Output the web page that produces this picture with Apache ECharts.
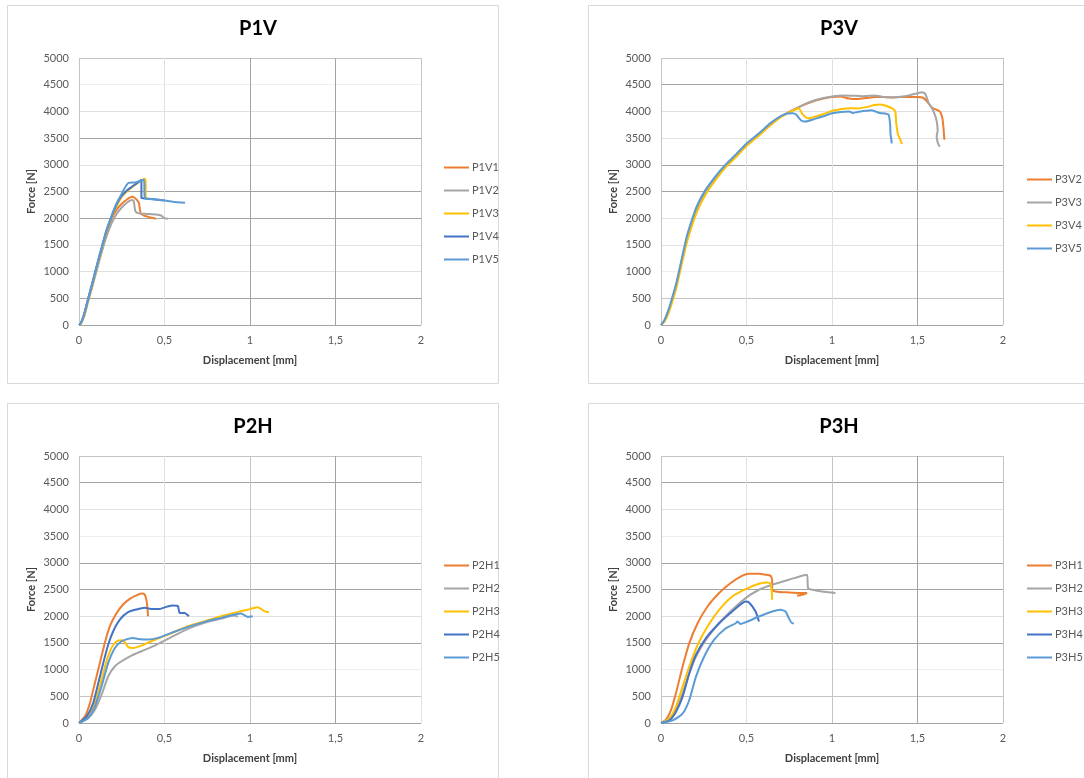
<!DOCTYPE html>
<html>
<head>
<meta charset="utf-8">
<script src="https://cdn.jsdelivr.net/npm/echarts@6/dist/echarts.min.js"></script>
<style>
  html, body { margin: 0; padding: 0; background: #ffffff; }
  #chart { width: 1084px; height: 778px; }
</style>
</head>
<body>
<div id="chart"></div>
<script>
// Force–displacement curves, [displacement mm, force N]
const P1V1 = [[0,0],[0.01,30],[0.03,190],[0.05,440],[0.08,790],[0.1,1040],[0.13,1390],[0.16,1720],[0.19,1980],[0.22,2160],[0.25,2270],[0.28,2350],[0.31,2400],[0.33,2370],[0.35,2290],[0.36,2100],[0.38,2050],[0.40,2030],[0.45,1990]];
const P1V2 = [[0,0],[0.01,20],[0.03,160],[0.05,400],[0.08,740],[0.1,980],[0.13,1330],[0.16,1650],[0.19,1900],[0.22,2080],[0.25,2200],[0.28,2290],[0.31,2340],[0.32,2320],[0.33,2130],[0.35,2090],[0.40,2080],[0.45,2070],[0.48,2050],[0.5,2000],[0.52,1990]];
const P1V3 = [[0,0],[0.01,20],[0.03,170],[0.05,420],[0.08,780],[0.1,1030],[0.13,1390],[0.16,1740],[0.19,2010],[0.22,2230],[0.25,2400],[0.28,2500],[0.31,2580],[0.34,2650],[0.37,2720],[0.385,2740],[0.39,2700],[0.39,2380],[0.42,2360]];
const P1V4 = [[0,0],[0.01,30],[0.03,200],[0.05,450],[0.08,810],[0.1,1060],[0.13,1420],[0.16,1760],[0.19,2030],[0.22,2260],[0.25,2420],[0.28,2520],[0.31,2590],[0.34,2660],[0.36,2710],[0.365,2720],[0.365,2380],[0.39,2370],[0.45,2350],[0.5,2330]];
const P1V5 = [[0,0],[0.01,30],[0.03,200],[0.05,450],[0.08,810],[0.1,1060],[0.13,1420],[0.16,1770],[0.19,2040],[0.22,2280],[0.25,2460],[0.27,2580],[0.29,2660],[0.33,2670],[0.36,2700],[0.38,2720],[0.385,2380],[0.45,2350],[0.55,2310],[0.62,2290]];

const P3V2 = [[0,0],[0.02,80],[0.04,230],[0.06,420],[0.09,760],[0.12,1180],[0.15,1600],[0.18,1900],[0.21,2170],[0.26,2480],[0.32,2750],[0.38,2980],[0.44,3170],[0.5,3370],[0.57,3560],[0.64,3750],[0.7,3900],[0.75,3990],[0.8,4070],[0.85,4140],[0.9,4200],[0.95,4240],[1.0,4270],[1.05,4280],[1.1,4240],[1.15,4230],[1.2,4250],[1.25,4270],[1.3,4270],[1.35,4260],[1.4,4270],[1.45,4270],[1.5,4270],[1.53,4260],[1.555,4190],[1.585,4070],[1.63,4000],[1.645,3880],[1.652,3690],[1.657,3470]];
const P3V3 = [[0,0],[0.02,80],[0.04,230],[0.06,420],[0.09,760],[0.12,1180],[0.15,1600],[0.18,1900],[0.21,2170],[0.26,2480],[0.32,2750],[0.38,2980],[0.44,3170],[0.5,3370],[0.57,3560],[0.64,3750],[0.7,3900],[0.75,3990],[0.8,4070],[0.85,4150],[0.9,4210],[0.95,4250],[1.0,4280],[1.06,4300],[1.12,4295],[1.18,4285],[1.25,4300],[1.3,4270],[1.35,4265],[1.4,4275],[1.45,4300],[1.5,4340],[1.525,4360],[1.545,4330],[1.565,4160],[1.585,4060],[1.6,3950],[1.612,3820],[1.618,3640],[1.612,3530],[1.62,3400],[1.63,3340]];
const P3V4 = [[0,0],[0.02,60],[0.04,190],[0.06,370],[0.09,700],[0.12,1120],[0.15,1530],[0.18,1850],[0.21,2120],[0.26,2440],[0.32,2720],[0.38,2960],[0.44,3150],[0.5,3350],[0.57,3540],[0.64,3740],[0.7,3890],[0.75,3980],[0.79,4040],[0.805,4060],[0.83,3940],[0.86,3870],[0.9,3900],[0.95,3950],[1.0,4010],[1.05,4040],[1.1,4060],[1.15,4055],[1.2,4080],[1.25,4120],[1.28,4130],[1.31,4110],[1.35,4060],[1.37,4000],[1.375,3800],[1.385,3580],[1.41,3390]];
const P3V5 = [[0,0],[0.02,90],[0.04,250],[0.06,450],[0.09,790],[0.12,1220],[0.15,1650],[0.18,1960],[0.21,2230],[0.26,2530],[0.32,2790],[0.38,3010],[0.44,3200],[0.5,3400],[0.57,3580],[0.64,3780],[0.7,3910],[0.74,3960],[0.77,3965],[0.79,3940],[0.82,3830],[0.845,3810],[0.9,3860],[0.95,3910],[1.0,3965],[1.05,3990],[1.1,4000],[1.12,3970],[1.15,3990],[1.2,4010],[1.23,4020],[1.28,3970],[1.33,3940],[1.34,3750],[1.342,3590],[1.35,3400]];

const P2H1 = [[0,0],[0.035,125],[0.064,375],[0.093,750],[0.122,1125],[0.151,1500],[0.18,1810],[0.22,2060],[0.258,2220],[0.297,2325],[0.345,2405],[0.369,2425],[0.384,2405],[0.394,2310],[0.40,2160],[0.404,2000]];
const P2H2 = [[0,0],[0.054,94],[0.093,250],[0.132,531],[0.171,875],[0.21,1062],[0.249,1156],[0.307,1262],[0.365,1344],[0.443,1450],[0.52,1575],[0.637,1762],[0.734,1875],[0.831,1956],[0.909,2012],[0.928,1987]];
const P2H3 = [[0,0],[0.054,125],[0.093,375],[0.132,812],[0.161,1156],[0.19,1406],[0.22,1531],[0.249,1550],[0.268,1512],[0.287,1425],[0.316,1406],[0.365,1450],[0.423,1531],[0.52,1656],[0.637,1812],[0.734,1906],[0.831,2000],[0.928,2081],[1.006,2137],[1.045,2169],[1.064,2137],[1.083,2094],[1.11,2075]];
const P2H4 = [[0,0],[0.045,125],[0.083,375],[0.113,750],[0.142,1125],[0.171,1469],[0.2,1719],[0.239,1937],[0.287,2075],[0.336,2125],[0.384,2156],[0.423,2137],[0.472,2137],[0.51,2175],[0.55,2200],[0.579,2187],[0.588,2062],[0.617,2062],[0.643,2000]];
const P2H5 = [[0,0],[0.054,94],[0.093,312],[0.132,687],[0.171,1125],[0.21,1406],[0.249,1531],[0.287,1575],[0.316,1594],[0.345,1575],[0.404,1562],[0.462,1594],[0.54,1687],[0.637,1800],[0.734,1894],[0.831,1969],[0.909,2031],[0.948,2050],[0.967,2019],[0.986,1987],[1.016,2000]];

const P3H1 = [[0,0],[0.029,63],[0.058,238],[0.087,552],[0.126,1053],[0.165,1492],[0.214,1868],[0.272,2182],[0.34,2433],[0.408,2621],[0.476,2759],[0.515,2796],[0.573,2796],[0.61,2778],[0.64,2759],[0.65,2683],[0.65,2495],[0.67,2464],[0.748,2445],[0.825,2433],[0.854,2433],[0.825,2401],[0.796,2383]];
const P3H2 = [[0,0],[0.049,82],[0.087,238],[0.126,552],[0.165,928],[0.204,1241],[0.262,1555],[0.34,1868],[0.417,2119],[0.495,2339],[0.573,2495],[0.65,2589],[0.748,2683],[0.825,2759],[0.854,2778],[0.86,2527],[0.884,2495],[0.942,2464],[1.02,2433]];
const P3H3 = [[0,0],[0.049,82],[0.087,301],[0.126,677],[0.165,1053],[0.214,1461],[0.272,1806],[0.34,2119],[0.417,2370],[0.495,2508],[0.573,2608],[0.621,2633],[0.64,2608],[0.646,2527],[0.65,2307]];
const P3H4 = [[0,0],[0.049,50],[0.087,207],[0.126,489],[0.165,928],[0.204,1273],[0.262,1586],[0.34,1868],[0.417,2088],[0.495,2276],[0.515,2257],[0.553,2088],[0.573,1900]];
const P3H5 = [[0,0],[0.068,50],[0.126,175],[0.165,426],[0.204,865],[0.252,1241],[0.31,1555],[0.379,1774],[0.437,1868],[0.447,1900],[0.466,1856],[0.505,1900],[0.573,1994],[0.65,2088],[0.699,2119],[0.728,2088],[0.748,1962],[0.767,1868],[0.777,1868]];

// Axis ticks and their labels
const xTicks = [0, 0.5, 1, 1.5, 2];
const xTickLabels = ['0', '0,5', '1', '1,5', '2'];
const yTicks = [0, 500, 1000, 1500, 2000, 2500, 3000, 3500, 4000, 4500, 5000];
const yTickLabels = ['0', '500', '1000', '1500', '2000', '2500', '3000', '3500', '4000', '4500', '5000'];

const panelTitles = ['P1V', 'P3V', 'P2H', 'P3H'];
const panelSeries = [
  [['P1V1', P1V1], ['P1V2', P1V2], ['P1V3', P1V3], ['P1V4', P1V4], ['P1V5', P1V5]],
  [['P3V2', P3V2], ['P3V3', P3V3], ['P3V4', P3V4], ['P3V5', P3V5]],
  [['P2H1', P2H1], ['P2H2', P2H2], ['P2H3', P2H3], ['P2H4', P2H4], ['P2H5', P2H5]],
  [['P3H1', P3H1], ['P3H2', P3H2], ['P3H3', P3H3], ['P3H4', P3H4], ['P3H5', P3H5]]
];
const panelColors = [
  ['#ED7D31', '#A5A5A5', '#FFC000', '#4472C4', '#5B9BD5'],
  ['#ED7D31', '#A5A5A5', '#FFC000', '#5B9BD5'],
  ['#ED7D31', '#A5A5A5', '#FFC000', '#4472C4', '#5B9BD5'],
  ['#ED7D31', '#A5A5A5', '#FFC000', '#4472C4', '#5B9BD5']
];

// Gridline shades (some gridlines print heavier than others)
const D = '#a3a3a3', M = '#c4c4c4', L = '#e0e0e0', F = '#eeeeee';
const yGridShades = [
  [D, D, L, L, D, D, L, D, L, F, M],
  [D, M, F, L, L, D, D, L, L, D, M],
  [D, M, F, D, L, D, D, F, L, D, M],
  [D, M, F, D, L, D, D, F, L, D, M]
];
const xGridShades = [
  [M, L, D, D, M],
  [M, L, L, D, M],
  [M, L, M, D, L],
  [M, L, M, D, M]
];

// Panel frames and plot rectangles
const frames = [
  { x: 7, y: 5, w: 491, h: 378 },
  { x: 588, y: 5, w: 510, h: 378 },
  { x: 7, y: 403, w: 491, h: 390 },
  { x: 588, y: 403, w: 510, h: 390 }
];
const plots = [
  { left: 79, top: 58, width: 342, height: 267, titleX: 258, legendLeft: 444, legendTop: 161 },
  { left: 661, top: 58, width: 342, height: 267, titleX: 839, legendLeft: 1027, legendTop: 173 },
  { left: 79, top: 456, width: 342, height: 267, titleX: 253, legendLeft: 444, legendTop: 559 },
  { left: 661, top: 456, width: 342, height: 267, titleX: 839, legendLeft: 1027, legendTop: 559 }
];

const FONT = 'Lato, "Open Sans", sans-serif';

const option = {
  animation: false,
  backgroundColor: '#ffffff',
  textStyle: { fontFamily: FONT },
  graphic: frames.map(f => ({
    type: 'rect', z: -10, silent: true,
    shape: { x: f.x + 0.5, y: f.y + 0.5, width: f.w, height: f.h },
    style: { fill: '#ffffff', stroke: '#d9d9d9', lineWidth: 1 }
  })),
  title: plots.map((p, i) => ({
    text: panelTitles[i],
    left: p.titleX,
    top: p.top - 39,
    textAlign: 'center',
    padding: 0,
    textStyle: { fontFamily: FONT, fontSize: 20, fontWeight: 'bold', color: '#000000' }
  })),
  legend: plots.map((p, i) => ({
    orient: 'vertical',
    left: p.legendLeft,
    top: p.legendTop,
    icon: 'rect',
    itemWidth: 25,
    itemHeight: 2,
    itemGap: 10,
    padding: 0,
    selectedMode: false,
    data: panelSeries[i].map(s => s[0]),
    textStyle: { fontFamily: FONT, fontSize: 11, color: '#595959', lineHeight: 13, padding: [0, 0, 0, -2] }
  })),
  grid: plots.map(p => ({ left: p.left, top: p.top, width: p.width, height: p.height, containLabel: false })),
  xAxis: plots.map((p, i) => ({
    type: 'value',
    gridIndex: i,
    min: xTicks[0],
    max: xTicks[xTicks.length - 1],
    interval: xTicks[1] - xTicks[0],
    name: 'Displacement [mm]',
    nameLocation: 'middle',
    nameGap: 30,
    nameTextStyle: { fontFamily: FONT, fontSize: 11, fontWeight: 'bold', color: '#404040' },
    axisLine: { show: false },
    axisTick: { show: false },
    axisLabel: {
      margin: 10,
      fontFamily: FONT, fontSize: 11, color: '#595959',
      formatter: v => xTickLabels[xTicks.indexOf(v)] ?? ''
    },
    splitLine: { show: true, lineStyle: { color: xGridShades[i], width: 1 } }
  })),
  yAxis: plots.map((p, i) => ({
    type: 'value',
    gridIndex: i,
    min: yTicks[0],
    max: yTicks[yTicks.length - 1],
    interval: yTicks[1] - yTicks[0],
    name: 'Force [N]',
    nameLocation: 'middle',
    nameRotate: 90,
    nameGap: 42,
    nameTextStyle: { fontFamily: FONT, fontSize: 11, fontWeight: 'bold', color: '#404040' },
    axisLine: { show: false },
    axisTick: { show: false },
    axisLabel: {
      margin: 10, fontFamily: FONT, fontSize: 11, color: '#595959',
      formatter: v => yTickLabels[yTicks.indexOf(v)] ?? ''
    },
    splitLine: { show: true, lineStyle: { color: yGridShades[i], width: 1 } }
  })),
  series: panelSeries.flatMap((list, i) => list.map(([name, data], k) => ({
    name,
    type: 'line',
    xAxisIndex: i,
    yAxisIndex: i,
    data,
    showSymbol: false,
    smooth: 0.2,
    color: panelColors[i][k],
    lineStyle: { width: 2, color: panelColors[i][k] },
    emphasis: { disabled: true }
  })))
};

const chart = echarts.init(document.getElementById('chart'), null, { renderer: 'canvas' });
chart.setOption(option);
</script>
</body>
</html>
